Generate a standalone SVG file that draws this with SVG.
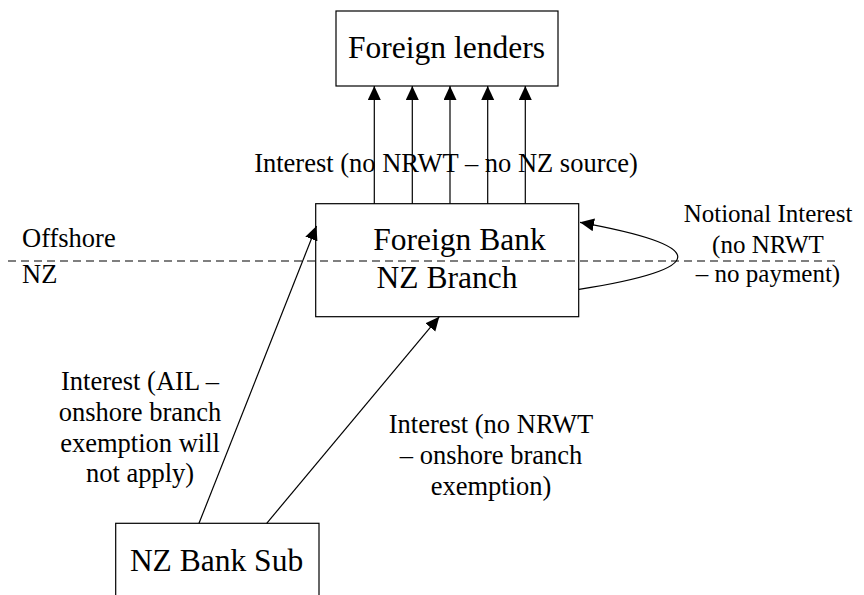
<svg xmlns="http://www.w3.org/2000/svg" width="864" height="595" viewBox="0 0 864 595">
<defs>
<style>
.box{fill:#fff;stroke:#000;stroke-width:1.2}
.ln{fill:none;stroke:#000;stroke-width:1.2}
.dash{fill:none;stroke:#000;stroke-width:1.2;stroke-dasharray:8,5}
</style>
<marker id="ah" markerUnits="userSpaceOnUse" markerWidth="15" markerHeight="14" refX="14" refY="6.5" orient="auto">
<path d="M0,0 L14,6.5 L0,13 z" fill="#000"/>
</marker>
</defs>
<g id="foreign-lenders">
<rect class="box" x="336" y="11" width="222" height="75"/>
<text x="446.5" y="58" text-anchor="middle" font-family="Liberation Serif" font-size="31.5">Foreign lenders</text>
</g>
<g id="foreign-bank">
<rect class="box" x="315.7" y="203.7" width="263" height="113"/>
<text x="459.5" y="250" text-anchor="middle" font-family="Liberation Serif" font-size="31.5">Foreign Bank</text>
<text x="447" y="287.5" text-anchor="middle" font-family="Liberation Serif" font-size="31.5">NZ Branch</text>
</g>
<g id="nz-bank-sub">
<rect class="box" x="115.7" y="523.3" width="203.3" height="80"/>
<text x="216.5" y="570.5" text-anchor="middle" font-family="Liberation Serif" font-size="31.5">NZ Bank Sub</text>
</g>
<g id="zones">
<line class="dash" x1="8" y1="261" x2="840" y2="261"/>
<text x="22" y="247" font-family="Liberation Serif" font-size="26.5">Offshore</text>
<text x="22" y="283" font-family="Liberation Serif" font-size="26.5">NZ</text>
</g>
<g id="connectors">
<line class="ln" x1="374.3" y1="203.7" x2="374.3" y2="86" marker-end="url(#ah)"/>
<line class="ln" x1="412.3" y1="203.7" x2="412.3" y2="86" marker-end="url(#ah)"/>
<line class="ln" x1="450" y1="203.7" x2="450" y2="86" marker-end="url(#ah)"/>
<line class="ln" x1="487.7" y1="203.7" x2="487.7" y2="86" marker-end="url(#ah)"/>
<line class="ln" x1="525.3" y1="203.7" x2="525.3" y2="86" marker-end="url(#ah)"/>
<line class="ln" x1="199" y1="523.3" x2="316.5" y2="226" marker-end="url(#ah)"/>
<line class="ln" x1="266.7" y1="523.3" x2="439.3" y2="316.7" marker-end="url(#ah)"/>
<path class="ln" d="M579,289.3 Q776,258 580,222.3" marker-end="url(#ah)"/>
</g>
<g id="labels">
<text x="446" y="172" text-anchor="middle" font-family="Liberation Serif" font-size="26.5">Interest (no NRWT – no NZ source)</text>
<text x="140" y="390" text-anchor="middle" font-family="Liberation Serif" font-size="26.5">Interest (AIL –</text>
<text x="140" y="421" text-anchor="middle" font-family="Liberation Serif" font-size="26.5">onshore branch</text>
<text x="140" y="451.5" text-anchor="middle" font-family="Liberation Serif" font-size="26.5">exemption will</text>
<text x="140" y="481.5" text-anchor="middle" font-family="Liberation Serif" font-size="26.5">not apply)</text>
<text x="491" y="433" text-anchor="middle" font-family="Liberation Serif" font-size="26.5">Interest (no NRWT</text>
<text x="491" y="463.5" text-anchor="middle" font-family="Liberation Serif" font-size="26.5">– onshore branch</text>
<text x="491" y="494.5" text-anchor="middle" font-family="Liberation Serif" font-size="26.5">exemption)</text>
<text x="768" y="221.5" text-anchor="middle" font-family="Liberation Serif" font-size="25">Notional Interest</text>
<text x="768" y="252.5" text-anchor="middle" font-family="Liberation Serif" font-size="25">(no NRWT</text>
<text x="768" y="282" text-anchor="middle" font-family="Liberation Serif" font-size="25">– no payment)</text>
</g>
</svg>
